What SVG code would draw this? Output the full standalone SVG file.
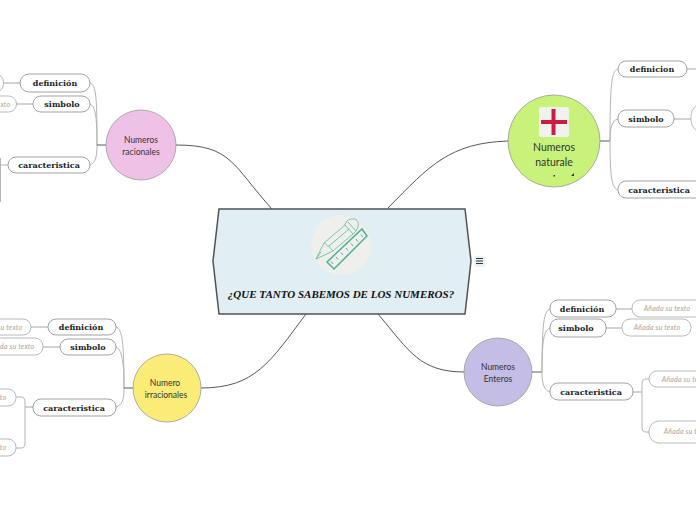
<svg xmlns="http://www.w3.org/2000/svg" width="696" height="520" viewBox="0 0 696 520">
<style>
.c{fill:none;stroke:#55595a;stroke-width:1}
.b{fill:none;stroke:#b4b4b4;stroke-width:1}
.s{fill:none;stroke:#c4c4c4;stroke-width:1.5}
.box{fill:#fff;stroke:#8c8c8c;stroke-width:.8}
.leaf{fill:#fff;stroke:#a8a8a8;stroke-width:.8}
.t{font-family:"DejaVu Serif",serif;font-weight:700;font-size:8px;fill:#222;text-anchor:middle}
.l{font-family:"Lato",sans-serif;font-style:italic;font-size:7px;letter-spacing:.2px;fill:#a6a6a6;text-anchor:middle}
.n{font-family:"Lato",sans-serif;font-size:8.5px;fill:#333;text-anchor:middle}
.nb{font-family:"Lato",sans-serif;font-size:10.5px;fill:#333;text-anchor:middle}
.circ{stroke:#9a9a9a;stroke-width:.8}
</style>
<rect width="696" height="520" fill="#fff"/>
<g id="connectors">
<path class="c" d="M176 145C232 145 232 165 272 209"/>
<path class="c" d="M508 141C450 143 430 165 388 208"/>
<path class="c" d="M201 388C255 388 270 362 306 314"/>
<path class="c" d="M465 372C420 372 410 352 378 314"/>
<path class="b" d="M90 83C96 85 97 95 97 145M90 104C95 106 97 115 97 145M90 165C95 163 97 158 97 145"/>
<path class="c" d="M97 145H106"/>
<path class="s" d="M3 83H20M16 104H33"/>
<path class="b" d="M0 165H8M0.500 158V202"/>
<path class="c" d="M600 141H610"/>
<path class="b" d="M618 69C612 71 610 80 610 141M618 119C612 120 610 128 610 141M618 190C612 188 610 178 610 141"/>
<path class="s" d="M674 119H691M687 69H696"/>
<path class="b" d="M116 327C122 329 124 340 124 388M116 347C121 349 124 358 124 388M116 407C122 405 124 400 124 388"/>
<path class="c" d="M124 388H133"/>
<path class="s" d="M31 327H48M43 347H60M25 407H33"/>
<path class="b" d="M16 397H21C24 397 25 399 25 402V443C25 446 24 448 21 448H16"/>
<path class="c" d="M532 372H542"/>
<path class="b" d="M550 309C544 311 542 322 542 372M550 328C544 330 542 340 542 372M550 392C544 390 542 384 542 372"/>
<path class="s" d="M616 309H632M606 328H622M633 392H642"/>
<path class="b" d="M649 379H646C643 379 642 381 642 384V427C642 430 643 432 646 432H649"/>
</g>
<g id="central">
<polygon points="219,209 465,209 471,261 465,314 219,314 213,261" fill="#e1eef4" stroke="#4f5354" stroke-width="1.5"/>
<circle cx="341" cy="245" r="30" fill="#efefeb"/>
<g fill="none" stroke="#6cc0ac" stroke-width=".9">
<path d="M316 259L324 243L345 225L353 234L333 251Z"/>
<path d="M324 243C327 243 326 247 329 246C331 249 331 249 333 251M329 246L349 229"/>
<path d="M345 225C346 218 356 217 358 222C359 226 357 231 353 234M348 222L356 231"/>
<path d="M316 259L321 252"/>
</g>
<g fill="none" stroke="#52b09a" stroke-width="1.500">
<path d="M327 262L362 229L367 236L334 269Z"/>
<path d="M333 264L331 261.500M338 259.500L336 257M343 255L341 252.500M348 250.500L346 248M353 246L351 243.500M358 241.500L356 239M363 237L361 234.500" stroke-width="1"/>
</g>
<text x="341" y="298" style="font-family:'Liberation Serif',serif;font-weight:700;font-style:italic;font-size:11px;fill:#111;text-anchor:middle">¿QUE TANTO SABEMOS DE LOS NUMEROS?</text>
</g>
<g id="menu-icon">
<rect x="474" y="256" width="11" height="11" rx="2" fill="#e8f1f6"/>
<path d="M476 258.500H483M476 261H483M476 263.500H483" stroke="#333" stroke-width="1" fill="none"/>
</g>
<g id="racionales">
<circle class="circ" cx="141" cy="145" r="35" fill="#efc1e6"/>
<text class="n" x="141" y="143">Numeros</text>
<text class="n" x="141" y="155">racionales</text>
</g>
<g id="rac-def"><rect class="box" x="20" y="74" width="70" height="18" rx="9"/><text class="t" x="55" y="86">definición</text></g>
<g id="rac-def-leaf"><rect class="leaf" x="-60" y="74" width="63.500" height="18" rx="8"/></g>
<g id="rac-sim"><rect class="box" x="33" y="96" width="57" height="16" rx="8"/><text class="t" x="62" y="107">simbolo</text></g>
<g id="rac-sim-leaf"><rect class="leaf" x="-50" y="96" width="66.500" height="16" rx="8"/><text class="l" x="-13" y="106.500">Añada su texto</text></g>
<g id="rac-car"><rect class="box" x="8" y="157" width="82" height="16" rx="8"/><text class="t" x="49" y="168">caracteristica</text></g>
<g id="naturales">
<circle class="circ" cx="554" cy="141" r="46" fill="#c8f27a"/>
<rect x="539" y="107" width="30" height="30" rx="2" fill="#f1f1ee"/>
<path d="M553.500 109V135M541 122H567" stroke="#c81e42" stroke-width="4" fill="none"/>
<text class="nb" x="554" y="151">Numeros</text>
<text class="nb" x="554" y="166">naturale</text>
<path d="M571 176H574V173Z" fill="#333"/>
<rect x="553.500" y="175" width="1.500" height="1.500" fill="#333"/>
</g>
<g id="nat-def"><rect class="box" x="618" y="61" width="69" height="16" rx="8"/><text class="t" x="652" y="72">definicion</text></g>
<g id="nat-sim"><rect class="box" x="618" y="110" width="56" height="17" rx="8"/><text class="t" x="646" y="122">simbolo</text></g>
<g id="nat-sim-leaf"><rect class="leaf" x="691" y="103" width="60" height="30" rx="13"/></g>
<g id="nat-car"><rect class="box" x="618" y="181" width="90" height="17" rx="8"/><text class="t" x="659" y="193">caracteristica</text></g>
<g id="irracionales">
<circle class="circ" cx="167" cy="388" r="34" fill="#fbec78"/>
<text class="n" x="165" y="386">Numero</text>
<text class="n" x="166" y="398">irracionales</text>
</g>
<g id="irr-def"><rect class="box" x="48" y="319" width="68" height="16" rx="8"/><text class="t" x="81" y="330">definición</text></g>
<g id="irr-def-leaf"><rect class="leaf" x="-40" y="319" width="71" height="16" rx="8"/><text class="l" x="-1" y="329.500">Añada su texto</text></g>
<g id="irr-sim"><rect class="box" x="60" y="339" width="56" height="16" rx="8"/><text class="t" x="88" y="350">simbolo</text></g>
<g id="irr-sim-leaf"><rect class="leaf" x="-30" y="338" width="73" height="17" rx="8"/><text class="l" x="11" y="349">Añada su texto</text></g>
<g id="irr-car"><rect class="box" x="33" y="399" width="83" height="17" rx="8"/><text class="t" x="74" y="411">caracteristica</text></g>
<g id="irr-car-leaf1"><rect class="leaf" x="-50" y="389" width="66" height="17" rx="8"/><text class="l" x="-17" y="400">Añada su texto</text></g>
<g id="irr-car-leaf2"><rect class="leaf" x="-50" y="439" width="66" height="17" rx="8"/><text class="l" x="-17" y="450">Añada su texto</text></g>
<g id="enteros">
<circle class="circ" cx="498" cy="372" r="34" fill="#c4bde6"/>
<text class="n" x="498" y="370">Numeros</text>
<text class="n" x="498" y="382">Enteros</text>
</g>
<g id="ent-def"><rect class="box" x="550" y="300" width="66" height="17" rx="8"/><text class="t" x="582" y="312">definición</text></g>
<g id="ent-def-leaf"><rect class="leaf" x="632" y="300" width="72" height="17" rx="8"/><text class="l" x="667" y="311">Añada su texto</text></g>
<g id="ent-sim"><rect class="box" x="550" y="319" width="56" height="18" rx="8"/><text class="t" x="576" y="331">simbolo</text></g>
<g id="ent-sim-leaf"><rect class="leaf" x="622" y="319" width="69" height="17" rx="8"/><text class="l" x="657" y="330">Añada su texto</text></g>
<g id="ent-car"><rect class="box" x="550" y="383" width="83" height="17" rx="8"/><text class="t" x="591" y="395">caracteristica</text></g>
<g id="ent-car-leaf1"><rect class="leaf" x="649" y="371" width="72" height="16" rx="8"/><text class="l" x="685" y="382">Añada su texto</text></g>
<g id="ent-car-leaf2"><rect class="leaf" x="649" y="421" width="72" height="22" rx="10"/><text class="l" x="687" y="434">Añada su texto</text></g>
</svg>
